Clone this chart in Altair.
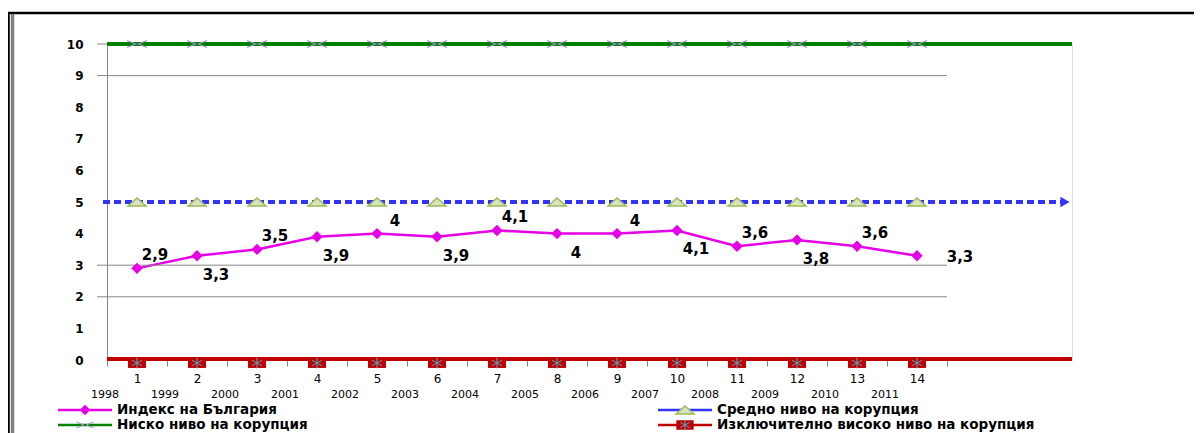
import altair as alt
import pandas as pd

# ---------------- data ----------------
categories = [1, 2, 3, 4, 5, 6, 7, 8, 9, 10, 11, 12, 13, 14]
years = ["1998", "1999", "2000", "2001", "2002", "2003", "2004",
         "2005", "2006", "2007", "2008", "2009", "2010", "2011"]
bulgaria = [2.9, 3.3, 3.5, 3.9, 4.0, 3.9, 4.1, 4.0, 4.0, 4.1, 3.6, 3.8, 3.6, 3.3]
bulgaria_labels = ["2,9", "3,3", "3,5", "3,9", "4", "3,9", "4,1",
                   "4", "4", "4,1", "3,6", "3,8", "3,6", "3,3"]
low_level = [10, 10, 10, 10, 10, 10, 10, 10, 10, 10, 10, 10, 10, 10]
mid_level = [5, 5, 5, 5, 5, 5, 5, 5, 5, 5, 5, 5, 5, 5]
high_level = [0, 0, 0, 0, 0, 0, 0, 0, 0, 0, 0, 0, 0, 0]
grid_levels = [10, 9, 3, 2]
series_names = ["Индекс на България", "Ниско ниво на корупция",
                "Средно ниво на корупция", "Изключително високо ниво на корупция"]

df = pd.DataFrame({
    "cat": categories, "year": years, "bg": bulgaria, "lbl": bulgaria_labels,
    "low": low_level, "mid": mid_level, "high": high_level,
})

# ---------------- styles ----------------
W, H = 965, 316
FONT = "DejaVu Sans"
MAGENTA = "#e600e6"
GREEN = "#008000"
BLUE = "#3333ff"
RED = "#c00000"
GRAY = "#868686"
LAV = "#9d90c9"
TRI_FILL = "#d7e4bd"
TRI_STROKE = "#9bbb59"
AST = "#4bacc6"

X_PATH = "M-1,-0.35L-0.15,0L-1,0.35M1,-0.35L0.15,0L1,0.35"
TRI_PATH = "M-1,0.45L0,-0.45L1,0.45Z"
RECT_PATH = "M-1,-0.55L1,-0.55L1,0.55L-1,0.55Z"
AST_PATH = "M0,-1L0,1M-0.9,-0.5L0.9,0.5M-0.9,0.5L0.9,-0.5"

xs = alt.Scale(domain=[0.5, 0.5 + W / 60.0], nice=False, zero=False)
ys = alt.Scale(domain=[0, 10], nice=False, zero=True)

xaxis = alt.Axis(values=list(range(1, 16)), tickOffset=-30, labelOffset=30,
                 labelExpr="datum.value > 14 ? '' : datum.label",
                 domain=False, ticks=True, tickColor=GRAY, tickSize=6, tickWidth=1,
                 labelFont=FONT, labelFontSize=12, labelColor="black",
                 labelPadding=7, grid=False, title=None, labelFlush=False,
                 labelOverlap=False)
yaxis = alt.Axis(values=list(range(0, 11)), domain=True, domainColor=GRAY,
                 domainWidth=1, ticks=False, labelPadding=24, labelFont=FONT,
                 labelFontWeight="bold", labelFontSize=12, labelColor="black",
                 grid=False, title=None)


def X(field="cat:Q"):
    return alt.X(field, scale=xs, axis=xaxis)


def Y(field):
    return alt.Y(field, scale=ys, axis=yaxis)


base = alt.Chart(df)
one = pd.DataFrame({"k": [0]})

# frame
frame_top = alt.Chart(one).mark_rule(color="black", strokeWidth=2.5).encode(
    x=alt.value(-100), x2=alt.value(1100), y=alt.value(-31))
frame_left = alt.Chart(one).mark_rule(color="black", strokeWidth=2.5).encode(
    x=alt.value(-98.5), y=alt.value(-32), y2=alt.value(420))
frame_gray = alt.Chart(one).mark_rule(color="#808080", strokeWidth=3.5).encode(
    x=alt.value(-94.5), y=alt.value(-30), y2=alt.value(420))

# gridlines (only those visible in the reference)
grid = alt.Chart(pd.DataFrame({"g": grid_levels})).mark_rule(
    color=GRAY, strokeWidth=1, xOffset=-10).encode(
    y=Y("g:Q"),
    x=alt.datum(0.5, type="quantitative", scale=xs, axis=xaxis),
    x2=alt.datum(14.5))

# low corruption (green) line + x markers
green_line = base.mark_rule(color=GREEN, strokeWidth=2.5).encode(y=Y("low:Q"))
green_marks = base.mark_point(shape=X_PATH, filled=False, stroke=LAV,
                              strokeWidth=1.2, size=400, opacity=1).encode(
    x=X(), y=Y("low:Q"))

# medium (blue dashed) + triangles + arrow
blue_line = base.mark_rule(color=BLUE, strokeWidth=3, strokeDash=[7, 4]).encode(
    y=Y("mid:Q"), x=alt.value(-4), x2=alt.value(W - 6))
blue_arrow = alt.Chart(df.head(1)).mark_point(
    shape="triangle-right", filled=True, color=BLUE, size=110, opacity=1,
    xOffset=-7).encode(x=alt.value(W), y=Y("mid:Q"))
tri_marks = base.mark_point(shape=TRI_PATH, filled=True, fill=TRI_FILL,
                            stroke=TRI_STROKE, strokeWidth=1.5, size=324,
                            opacity=1).encode(x=X(), y=Y("mid:Q"))

# extremely high (red) line + squares
red_line = base.mark_rule(color=RED, strokeWidth=4, yOffset=-1).encode(y=Y("high:Q"))
red_marks = base.mark_point(shape=RECT_PATH, filled=True, color=RED, size=324,
                            opacity=1, yOffset=3).encode(x=X(), y=Y("high:Q"))
ast_marks = base.mark_point(shape=AST_PATH, filled=False, stroke=AST,
                            strokeWidth=1, size=120, opacity=1, yOffset=3).encode(
    x=X(), y=Y("high:Q"))

# Bulgaria index
bg_line = base.mark_line(color=MAGENTA, strokeWidth=2.5).encode(x=X(), y=Y("bg:Q"))
bg_points = base.mark_point(shape="diamond", filled=True, color=MAGENTA,
                            size=130, opacity=1).encode(x=X(), y=Y("bg:Q"))

lbl_style = dict(font=FONT, fontWeight="bold", fontSize=15, color="black")
lbl_above = base.transform_filter("datum.cat % 2 == 1").mark_text(
    dx=18, dy=-13, **lbl_style).encode(x=X(), y=Y("bg:Q"), text="lbl:N")
lbl_below = base.transform_filter("datum.cat % 2 == 0 && datum.cat < 14").mark_text(
    dx=19, dy=19, **lbl_style).encode(x=X(), y=Y("bg:Q"), text="lbl:N")
lbl_last = base.transform_filter("datum.cat == 14").mark_text(
    dx=43, dy=1, **lbl_style).encode(x=X(), y=Y("bg:Q"), text="lbl:N")

# year labels under category numbers
year_text = base.mark_text(font=FONT, fontSize=11, color="black", dx=-32).encode(
    x=X(), y=alt.value(H + 35), text="year:N")


# legend
def legend_entry(name, color, col_x, row_y, marker):
    d = alt.Chart(pd.DataFrame({"name": [name]}))
    layers = [d.mark_rule(color=color, strokeWidth=2.5).encode(
        x=alt.value(col_x), x2=alt.value(col_x + 54), y=alt.value(row_y))]
    for m in marker:
        layers.append(d.mark_point(opacity=1, **m).encode(
            x=alt.value(col_x + 27), y=alt.value(row_y)))
    layers.append(d.mark_text(align="left", baseline="middle", font=FONT,
                              fontWeight="bold", fontSize=13.5, color="black").encode(
        x=alt.value(col_x + 59), y=alt.value(row_y), text="name:N"))
    return layers


LX, RX = -49, 551
R1, R2 = 366, 381
legend_layers = []
legend_layers += legend_entry(series_names[0], MAGENTA, LX, R1,
                              [dict(shape="diamond", filled=True, color=MAGENTA, size=110)])
legend_layers += legend_entry(series_names[1], GREEN, LX, R2,
                              [dict(shape=X_PATH, filled=False, stroke=LAV, strokeWidth=1, size=300)])
legend_layers += legend_entry(series_names[2], BLUE, RX, R1,
                              [dict(shape=TRI_PATH, filled=True, fill=TRI_FILL, stroke=TRI_STROKE,
                                    strokeWidth=1.5, size=324)])
legend_layers += legend_entry(series_names[3], RED, RX, R2,
                              [dict(shape=RECT_PATH, filled=True, color=RED, size=300),
                               dict(shape=AST_PATH, filled=False, stroke=AST, strokeWidth=1, size=110)])

chart = alt.layer(
    bg_line, frame_top, frame_left, frame_gray, grid,
    green_line, green_marks,
    blue_line, tri_marks, blue_arrow,
    red_line, red_marks, ast_marks,
    bg_points, lbl_above, lbl_below, lbl_last, year_text,
    *legend_layers,
).properties(
    width=W, height=H,
    autosize=alt.AutoSizeParams(type="none"),
    padding={"left": 99, "top": 36, "right": 122, "bottom": 73},
).configure_view(strokeWidth=0).configure(background="white")

chart.save("out.html", embed_options={"renderer": "svg", "actions": False})
